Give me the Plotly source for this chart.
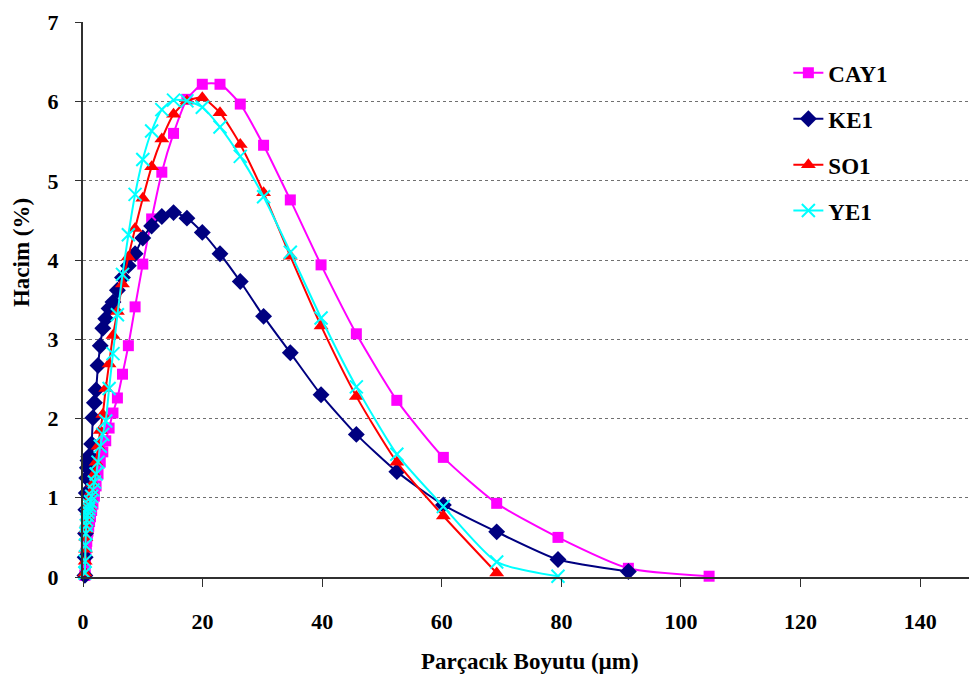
import plotly.graph_objects as go

# particle size bins (µm)
size_bins = [0.316, 0.363, 0.417, 0.479, 0.550, 0.631, 0.724, 0.832, 0.955, 1.096,
             1.259, 1.445, 1.660, 1.905, 2.188, 2.512, 2.884, 3.311, 3.802, 4.365,
             5.012, 5.754, 6.607, 7.586, 8.710, 10.00, 11.48, 13.18, 15.14, 17.38,
             19.95, 22.91, 26.30, 30.20, 34.67, 39.81, 45.71, 52.48, 60.26, 69.18,
             79.43, 91.20, 104.7]

cay1 = [0.02, 0.10, 0.20, 0.30, 0.38, 0.45, 0.52, 0.58, 0.64, 0.70,
        0.76, 0.84, 0.92, 1.02, 1.15, 1.30, 1.45, 1.58, 1.72, 1.88,
        2.07, 2.26, 2.56, 2.92, 3.41, 3.95, 4.52, 5.11, 5.60, 6.03,
        6.22, 6.22, 5.97, 5.45, 4.76, 3.94, 3.07, 2.23, 1.51, 0.93,
        0.50, 0.11, 0.01]

ke1 = [0.02, 0.25, 0.55, 0.85, 1.06, 1.25, 1.38, 1.47, 1.52, 1.50,
       1.52, 1.68, 2.01, 2.20, 2.36, 2.67, 2.92, 3.14, 3.26, 3.39,
       3.47, 3.62, 3.78, 3.93, 4.08, 4.28, 4.43, 4.55, 4.60, 4.53,
       4.35, 4.08, 3.73, 3.29, 2.83, 2.30, 1.80, 1.33, 0.91, 0.57,
       0.22, 0.07]

so1 = [0.05, 0.20, 0.35, 0.50, 0.60, 0.68, 0.75, 0.82, 0.88, 0.93,
       1.00, 1.08, 1.18, 1.30, 1.45, 1.65, 1.85, 2.05, 2.38, 2.69,
       3.05, 3.35, 3.70, 4.04, 4.40, 4.78, 5.18, 5.53, 5.84, 6.01,
       6.05, 5.86, 5.46, 4.85, 4.05, 3.17, 2.28, 1.45, 0.77, 0.05]

ye1 = [0.05, 0.20, 0.40, 0.55, 0.65, 0.72, 0.78, 0.82, 0.86, 0.90,
       0.95, 1.02, 1.10, 1.20, 1.30, 1.45, 1.65, 1.80, 1.97, 2.38,
       2.82, 3.31, 3.82, 4.32, 4.83, 5.27, 5.63, 5.90, 6.02, 6.01,
       5.93, 5.68, 5.31, 4.80, 4.10, 3.27, 2.40, 1.55, 0.89, 0.19,
       0.01]

x_ticks = [0, 20, 40, 60, 80, 100, 120, 140]
y_ticks = [0, 1, 2, 3, 4, 5, 6, 7]

FONT = "Liberation Serif"

series = [
    ("CAY1", cay1, "#FF00FF", dict(symbol="square", size=11)),
    ("KE1", ke1, "#000080", dict(symbol="diamond", size=13)),
    ("SO1", so1, "#FF0000", dict(symbol="triangle-up", size=13)),
    ("YE1", ye1, "#00FFFF", dict(symbol="x-thin", size=13)),
]

fig = go.Figure()
for i, (name, vals, col, mk) in enumerate(series):
    marker = dict(color=col, symbol=mk["symbol"], size=mk["size"],
                  line=dict(color=col, width=2 if mk["symbol"] == "x-thin" else 0))
    fig.add_trace(go.Scatter(
        x=size_bins[:len(vals)], y=vals, name=name, mode="lines+markers",
        line=dict(color=col, width=2, shape="spline", smoothing=0.6),
        marker=marker, legendgroup=name, cliponaxis=False,
    ))

fig.update_layout(
    width=969, height=675,
    margin=dict(l=75, r=0, t=14, b=106),
    paper_bgcolor="white", plot_bgcolor="white",
    font=dict(family=FONT, size=21, color="black"),
    showlegend=True,
    legend=dict(x=0.789, y=0.947, xanchor="left", yanchor="top",
                bgcolor="rgba(0,0,0,0)", tracegroupgap=13,
                font=dict(family=FONT, size=23, color="black", weight="bold")),
    xaxis=dict(range=[0, 149.5], tickvals=x_ticks, ticktext=[str(v) for v in x_ticks],
               showgrid=False, zeroline=False, showline=True, linecolor="#303030",
               linewidth=2, ticks="outside", ticklen=8, tickcolor="#303030",
               ticklabelstandoff=16, automargin=False, ticklabeloverflow="allow",
               tickfont=dict(family=FONT, size=22, weight="bold")),
    yaxis=dict(range=[0, 7.006], tickvals=y_ticks, ticktext=[str(v) for v in y_ticks],
               showgrid=True, gridcolor="#707070", griddash="3px,3px", gridwidth=1,
               zeroline=False, showline=True, linecolor="#303030", linewidth=2,
               ticks="outside", ticklen=6, tickcolor="#303030",
               ticklabelstandoff=12, automargin=False, ticklabeloverflow="allow",
               tickfont=dict(family=FONT, size=22, weight="bold")),
    shapes=[dict(type="rect", xref="paper", yref="paper",
                 x0=0.736, x1=0.931, y0=0.616, y1=0.968,
                 fillcolor="white", line=dict(width=0), layer="between")],
    annotations=[
        dict(text="Hacim (%)", xref="paper", yref="paper", x=-0.068, y=0.584,
             textangle=-90, showarrow=False, xanchor="center", yanchor="middle",
             font=dict(family=FONT, size=23, weight="bold")),
        dict(text="Parçacık Boyutu (µm)", xref="paper", yref="paper", x=0.5,
             y=-0.153, showarrow=False, xanchor="center", yanchor="middle",
             font=dict(family=FONT, size=23, weight="bold")),
    ],
)

fig.write_html("out.html")
